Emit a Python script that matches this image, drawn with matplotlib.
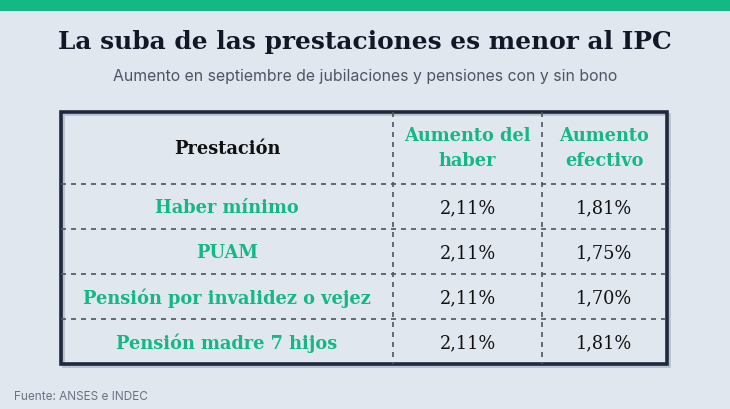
import matplotlib
matplotlib.use("Agg")
import matplotlib.pyplot as plt
from matplotlib.patches import Rectangle

title = "La suba de las prestaciones es menor al IPC"
subtitle = "Aumento en septiembre de jubilaciones y pensiones con y sin bono"
source = "Fuente: ANSES e INDEC"
headers = ["Prestación", "Aumento del\nhaber", "Aumento\nefectivo"]
categories = ["Haber mínimo", "PUAM", "Pensión por invalidez o vejez", "Pensión madre 7 hijos"]
haber = ["2,11%", "2,11%", "2,11%", "2,11%"]
efectivo = ["1,81%", "1,75%", "1,70%", "1,81%"]

BG = "#e1e7ef"
GREEN = "#14b885"
DARK = "#1e293b"
TXT = "#111111"
GRID = "#4b5563"
SERIF = ["DejaVu Serif"]

fig = plt.figure(figsize=(7.3, 4.1), dpi=100, facecolor=BG)
ax = fig.add_axes([0, 0, 1, 1])
ax.set_xlim(0, 730)
ax.set_ylim(410, 0)
ax.axis("off")
ax.set_facecolor(BG)

# top bar
ax.add_patch(Rectangle((0, 0), 730, 12, color="#13b884", lw=0))

ax.text(365, 49, title, ha="center", va="baseline", fontsize=17.9, fontweight="bold",
        family=SERIF, color="#111827")
ax.text(365, 76, subtitle, ha="center", va="center", fontsize=11.4,
        family=["Inter", "DejaVu Sans"], color="#4b5563")
ax.text(14, 397, source, ha="left", va="center", fontsize=8.5,
        family=["Inter", "DejaVu Sans"], color="#6b7280")

# table geometry
x0, x1 = 61, 667
y0, y1 = 113, 365
col_x = [x0, 393, 542, x1]
header_h = 72
row_h = (y1 - y0 - header_h) / len(categories)
row_y = [y0 + header_h + i * row_h for i in range(len(categories) + 1)]

# dashed grid
for cx in col_x[1:-1]:
    ax.plot([cx, cx], [y0, y1], ls=(0, (3, 3)), color=GRID, lw=1.2)
for ry in row_y[:-1]:
    ax.plot([x0, x1], [ry, ry], ls=(0, (3, 3)), color=GRID, lw=1.2)

# shadow + border
ax.add_patch(Rectangle((x0 + 2, y0 + 2), x1 - x0, y1 - y0, fill=False, ec="#b8c2d0", lw=2))
ax.add_patch(Rectangle((x0, y0), x1 - x0, y1 - y0, fill=False, ec=DARK, lw=2.6))

FS = 12.8
col_c = [(col_x[i] + col_x[i + 1]) / 2 for i in range(3)]
hy = y0 + header_h / 2
ax.text(col_c[0], hy, headers[0], ha="center", va="center", fontsize=FS,
        fontweight="bold", family=SERIF, color=TXT)
for i in (1, 2):
    ax.text(col_c[i], hy, headers[i], ha="center", va="center", fontsize=FS,
            fontweight="bold", family=SERIF, color=GREEN, linespacing=1.5)

for r, (cat, h, e) in enumerate(zip(categories, haber, efectivo)):
    cy = (row_y[r] + row_y[r + 1]) / 2 + 1
    ax.text(col_c[0], cy, cat, ha="center", va="center", fontsize=FS,
            fontweight="bold", family=SERIF, color=GREEN)
    ax.text(col_c[1], cy, h, ha="center", va="center", fontsize=FS,
            family=SERIF, color=TXT)
    ax.text(col_c[2], cy, e, ha="center", va="center", fontsize=FS,
            family=SERIF, color=TXT)

fig.savefig("out.png", dpi=100, facecolor=BG)
